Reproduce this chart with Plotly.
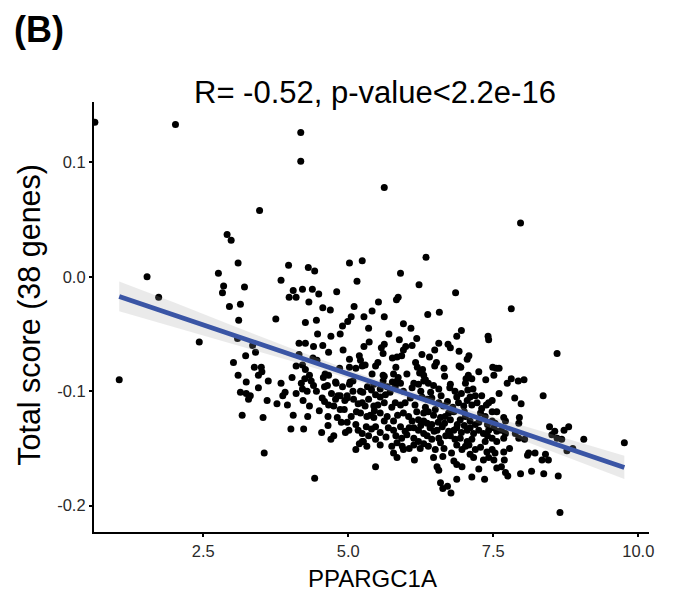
import plotly.graph_objects as go

# ---- data (PPARGC1A vs total score) ----
xa = [0.63, 2.02, 4.18, 4.18, 3.47, 2.91, 2.98, 5.62, 7.97, 1.53, 1.73, 2.43, 1.05, 2.76, 2.85, 2.83, 2.95]
ya = [0.135, 0.133, 0.126, 0.101, 0.058, 0.037, 0.032, 0.078, 0.047, 0.000, -0.018, -0.057, -0.090, 0.003, -0.008, -0.014, -0.026]

xb = [3.10, 3.97, 4.31, 4.42, 5.02, 5.24, 3.21, 3.84, 4.05, 4.21, 4.38, 4.49, 4.80, 5.15, 3.98, 4.10, 4.32,
      3.14, 4.56, 4.69, 5.10, 5.27, 3.11, 3.75, 4.26, 4.45, 5.05, 4.99, 4.90, 4.47, 4.86, 3.09, 3.35, 4.15,
      4.26, 4.40, 4.56, 4.66, 4.91, 3.40, 3.23, 3.02, 4.10, 4.21, 4.26, 4.39, 4.46, 5.02, 5.19, 5.21, 3.38,
      3.50, 3.51, 3.45, 3.10, 5.02, 5.13, 5.24, 4.03, 4.25, 4.33, 4.57, 4.66, 4.78, 5.03, 3.24, 3.62, 3.84]
yb = [0.012, 0.010, 0.008, 0.005, 0.012, 0.014, -0.009, -0.003, -0.012, -0.011, -0.011, -0.015, -0.013, -0.004, -0.018, -0.018, -0.022,
      -0.024, -0.027, -0.029, -0.026, -0.035, -0.038, -0.037, -0.040, -0.038, -0.035, -0.039, -0.043, -0.050, -0.050, -0.054, -0.060, -0.058,
      -0.058, -0.061, -0.060, -0.066, -0.064, -0.066, -0.069, -0.075, -0.078, -0.077, -0.081, -0.071, -0.073, -0.072, -0.069, -0.073, -0.079,
      -0.079, -0.083, -0.086, -0.086, -0.079, -0.080, -0.078, -0.088, -0.089, -0.086, -0.088, -0.086, -0.092, -0.092, -0.092, -0.091, -0.093]

xc = [6.34, 5.90, 6.22, 6.85, 5.52, 5.83, 5.86, 5.41, 5.62, 6.37, 6.57, 5.95, 6.08, 6.95, 6.87, 7.41, 7.42,
      5.36, 5.27, 5.88, 6.18, 6.56, 6.49, 6.72, 6.76, 5.62, 5.57, 5.60, 5.99, 5.95, 6.27, 6.91, 7.08, 7.05,
      5.76, 5.84, 5.92, 5.29, 5.51, 5.47, 6.16, 6.52, 6.49, 6.91, 6.94, 7.49, 7.55, 5.41, 5.60, 5.62, 5.82,
      5.78, 5.86, 6.01, 6.19, 6.28, 6.23, 6.30, 6.33, 6.66, 7.07, 7.03, 7.13, 7.37, 7.51, 5.76, 5.84, 6.13, 6.76]
yc = [0.017, 0.003, -0.007, -0.014, -0.022, -0.020, -0.018, -0.030, -0.035, -0.033, -0.031, -0.041, -0.045, -0.047, -0.052, -0.052, -0.055,
      -0.057, -0.061, -0.055, -0.054, -0.058, -0.064, -0.059, -0.062, -0.059, -0.062, -0.067, -0.061, -0.064, -0.068, -0.065, -0.069, -0.072,
      -0.071, -0.070, -0.069, -0.077, -0.075, -0.078, -0.075, -0.075, -0.078, -0.078, -0.079, -0.079, -0.080, -0.085, -0.086, -0.087, -0.079,
      -0.085, -0.088, -0.085, -0.079, -0.081, -0.084, -0.086, -0.090, -0.087, -0.086, -0.089, -0.089, -0.090, -0.086, -0.092, -0.091, -0.093, -0.094]

xd = [7.81, 8.60, 7.60, 7.81, 7.93, 8.03, 7.74]
yd = [-0.028, -0.067, -0.080, -0.089, -0.091, -0.090, -0.093]

xe = [4.19, 4.36, 4.40, 4.79, 4.90, 5.02, 5.08, 3.14, 3.24, 3.31, 3.28, 3.91, 3.87, 4.10, 4.21, 4.29, 4.59, 4.64, 4.71, 4.82,
      4.98, 5.08, 5.21, 4.22, 3.77, 4.33, 4.59, 4.66, 4.78, 4.86, 4.94, 4.98, 5.09, 5.17, 5.24, 4.86, 4.93, 3.17, 3.53, 4.05,
      4.65, 4.81, 4.88, 4.98, 5.14, 5.21, 5.13, 5.17, 4.01, 4.23, 4.54, 5.01, 4.95, 4.75, 4.70, 5.24, 5.19, 5.13, 3.55, 4.42]
ye = [-0.093, -0.091, -0.095, -0.093, -0.096, -0.094, -0.091, -0.101, -0.102, -0.104, -0.107, -0.101, -0.104, -0.102, -0.098, -0.100, -0.096, -0.095, -0.102, -0.104,
      -0.104, -0.100, -0.100, -0.108, -0.111, -0.113, -0.109, -0.112, -0.107, -0.104, -0.108, -0.106, -0.107, -0.111, -0.110, -0.116, -0.116, -0.121, -0.123, -0.121,
      -0.122, -0.123, -0.127, -0.127, -0.118, -0.119, -0.129, -0.134, -0.133, -0.133, -0.136, -0.134, -0.136, -0.139, -0.142, -0.144, -0.146, -0.151, -0.154, -0.176]

xf = [5.33, 5.44, 5.25, 5.60, 5.67, 5.81, 5.90, 6.21, 6.30, 6.38, 6.47, 6.56, 6.84, 6.87, 7.02, 7.06, 7.19, 7.10, 7.38, 7.48,
      5.47, 5.55, 5.64, 5.51, 5.44, 5.81, 5.90, 5.98, 5.29, 6.07, 6.27, 6.36, 6.44, 6.56, 6.64, 6.71, 6.90, 6.99, 7.05, 7.13,
      7.22, 5.32, 5.38, 5.44, 5.67, 5.78, 5.55, 5.95, 6.04, 6.18, 6.30, 6.38, 6.47, 6.21, 6.30, 6.36, 6.44, 6.59, 6.67, 6.76,
      6.73, 6.82, 6.93, 7.02, 7.10, 7.19, 7.28, 7.36, 7.48, 7.53, 7.48, 5.31, 5.69, 5.78, 5.90, 5.98, 6.13, 6.21, 6.30, 6.41,
      6.53, 6.62, 6.73, 6.82, 6.87, 7.05, 7.16, 7.25, 7.33, 7.42, 7.51, 7.56, 5.24, 5.35, 5.26, 5.47, 5.92, 6.01, 6.13, 6.21,
      6.36, 6.44, 6.56, 6.59, 6.76, 6.84, 6.93, 7.05, 7.13, 7.19, 7.36, 7.48, 7.56, 5.32, 5.84, 5.93, 6.13, 6.24, 6.38, 6.50,
      6.87, 6.96, 7.02, 7.39, 7.48, 7.53, 5.78, 5.84, 5.95, 6.14, 6.47, 6.63, 6.82, 6.87, 6.96, 7.10, 7.16, 7.33, 7.42, 7.51,
      7.56, 5.47, 6.53, 6.56, 7.25, 6.87, 7.13, 7.35, 6.59, 6.63, 6.71, 6.77, 5.47]
yf = [-0.096, -0.094, -0.101, -0.091, -0.096, -0.096, -0.093, -0.094, -0.091, -0.093, -0.095, -0.098, -0.100, -0.105, -0.093, -0.099, -0.104, -0.105, -0.112, -0.108,
      -0.103, -0.105, -0.103, -0.112, -0.113, -0.110, -0.112, -0.110, -0.113, -0.106, -0.105, -0.107, -0.106, -0.110, -0.113, -0.109, -0.110, -0.113, -0.108, -0.112,
      -0.110, -0.122, -0.121, -0.123, -0.122, -0.126, -0.119, -0.119, -0.122, -0.118, -0.119, -0.118, -0.121, -0.125, -0.126, -0.128, -0.129, -0.123, -0.122, -0.125,
      -0.119, -0.118, -0.125, -0.122, -0.126, -0.129, -0.119, -0.122, -0.126, -0.128, -0.118, -0.131, -0.132, -0.134, -0.131, -0.135, -0.132, -0.134, -0.137, -0.132,
      -0.134, -0.131, -0.135, -0.134, -0.132, -0.134, -0.137, -0.134, -0.137, -0.134, -0.132, -0.135, -0.137, -0.139, -0.144, -0.142, -0.141, -0.138, -0.141, -0.144,
      -0.139, -0.142, -0.141, -0.145, -0.139, -0.142, -0.141, -0.144, -0.142, -0.151, -0.144, -0.141, -0.144, -0.148, -0.145, -0.148, -0.147, -0.150, -0.148, -0.151,
      -0.147, -0.151, -0.148, -0.153, -0.151, -0.154, -0.154, -0.158, -0.151, -0.160, -0.158, -0.157, -0.161, -0.164, -0.166, -0.155, -0.158, -0.160, -0.158, -0.160,
      -0.167, -0.166, -0.166, -0.169, -0.168, -0.177, -0.175, -0.177, -0.180, -0.185, -0.183, -0.189, -0.131]

xg = [7.60, 7.87, 7.98, 8.36, 7.56, 7.68, 7.71, 7.95, 7.94, 7.64, 7.71, 7.88, 7.94, 8.04, 7.68, 8.47, 8.56, 8.51, 8.60, 8.68,
      8.72, 8.80, 9.06, 9.76, 7.68, 7.78, 8.11, 8.22, 8.09, 8.40, 8.45, 8.34, 8.77, 8.87, 7.69, 7.64, 7.71, 7.75, 7.97, 8.16,
      8.37, 8.62, 8.65]
yg = [-0.102, -0.106, -0.111, -0.104, -0.118, -0.123, -0.126, -0.123, -0.128, -0.134, -0.137, -0.137, -0.141, -0.142, -0.141, -0.131, -0.135, -0.138, -0.141, -0.142,
      -0.134, -0.131, -0.142, -0.145, -0.153, -0.150, -0.154, -0.154, -0.156, -0.155, -0.160, -0.160, -0.152, -0.150, -0.160, -0.166, -0.171, -0.174, -0.172, -0.170,
      -0.172, -0.174, -0.206]

# overlapping points in the dense core (estimated)
xh = [5.40, 5.55, 5.72, 5.95, 6.10, 6.25, 6.42, 6.60, 6.75, 6.95, 7.15, 7.30,
      5.35, 5.62, 5.75, 6.15, 6.33, 6.50, 6.80, 7.00, 7.30, 7.42,
      5.45, 5.62, 5.85, 6.10, 6.55, 6.66, 6.88, 7.00, 7.25, 7.40,
      5.40, 5.55, 5.65, 5.82, 6.05, 6.25, 6.48, 6.68, 6.95, 7.10, 7.40,
      5.55, 5.75, 6.05, 6.30, 6.65, 6.78, 7.08, 7.28,
      4.45, 4.55, 4.75, 4.50, 4.30, 4.65, 5.05, 3.95, 3.60, 3.45,
      4.60, 4.85, 4.15, 4.70, 5.35, 5.70, 6.10, 6.40, 6.65, 7.25]
yh = [-0.099, -0.098, -0.101, -0.100, -0.097, -0.100, -0.101, -0.104, -0.097, -0.102, -0.098, -0.104,
      -0.107, -0.110, -0.114, -0.112, -0.114, -0.116, -0.114, -0.118, -0.115, -0.110,
      -0.117, -0.126, -0.121, -0.126, -0.127, -0.128, -0.129, -0.130, -0.127, -0.129,
      -0.133, -0.136, -0.140, -0.139, -0.132, -0.130, -0.135, -0.139, -0.136, -0.132, -0.139,
      -0.147, -0.148, -0.150, -0.146, -0.150, -0.154, -0.147, -0.149,
      -0.100, -0.106, -0.113, -0.117, -0.122, -0.130, -0.122, -0.112, -0.108, -0.097,
      -0.085, -0.080, -0.068, -0.052, -0.045, -0.050, -0.060, -0.070, -0.080, -0.083]

# linear fit line and its confidence band
fit_x = [1.05, 9.76]
fit_y = [-0.0172, -0.1666]
band_x = [1.05, 2.0, 3.0, 4.0, 5.0, 5.8, 7.0, 8.0, 9.0, 9.76]
band_lo = [-0.0302, -0.0445, -0.0586, -0.0733, -0.0887, -0.1020, -0.1234, -0.1426, -0.1620, -0.1768]
band_hi = [-0.0042, -0.0225, -0.0426, -0.0623, -0.0811, -0.0954, -0.1150, -0.1302, -0.1450, -0.1564]

x_ticks = [2.5, 5.0, 7.5, 10.0]
x_ticktext = ["2.5", "5.0", "7.5", "10.0"]
y_ticks = [0.1, 0.0, -0.1, -0.2]
y_ticktext = ["0.1", "0.0", "-0.1", "-0.2"]

title_text = "R= -0.52, p-value<2.2e-16"
panel_label = "(B)"
x_label = "PPARGC1A"
y_label = "Total score (38 genes)"

xs = xa + xb + xc + xd + xe + xf + xg + xh
ys = ya + yb + yc + yd + ye + yf + yg + yh

FONT = "Liberation Sans, Arial, sans-serif"

fig = go.Figure()
fig.add_trace(go.Scatter(x=xs, y=ys, mode="markers",
                         marker=dict(color="black", size=7, line=dict(width=0)),
                         hoverinfo="skip", showlegend=False))
fig.add_trace(go.Scatter(x=band_x + band_x[::-1], y=band_hi + band_lo[::-1],
                         mode="lines", fill="toself", fillcolor="rgba(160,160,160,0.22)",
                         line=dict(width=0), hoverinfo="skip", showlegend=False))
fig.add_trace(go.Scatter(x=fit_x, y=fit_y, mode="lines",
                         line=dict(color="#3A55A5", width=4.8),
                         hoverinfo="skip", showlegend=False))

axis_common = dict(showgrid=False, zeroline=False, showline=True, linecolor="black", linewidth=2.2,
                   ticks="outside", ticklen=3, tickwidth=1.5, tickcolor="black",
                   tickfont=dict(family=FONT, size=16.5, color="#2a2a2a"))

fig.update_layout(
    width=691, height=605,
    margin=dict(l=94, r=42, t=102, b=73, autoexpand=False),
    paper_bgcolor="white", plot_bgcolor="white",
    xaxis=dict(range=[0.615, 10.185], tickvals=x_ticks, ticktext=x_ticktext, **axis_common),
    yaxis=dict(range=[-0.223, 0.1527], tickvals=y_ticks, ticktext=y_ticktext, **axis_common),
    annotations=[
        dict(text=title_text, xref="paper", yref="paper", x=0.507, y=1.0214, xanchor="center", yanchor="middle",
             showarrow=False, font=dict(family=FONT, size=31, color="black")),
        dict(text="<b>" + panel_label + "</b>", xref="paper", yref="paper", x=-0.148, y=1.168, xanchor="left", yanchor="middle",
             showarrow=False, font=dict(family=FONT, size=36, color="black")),
        dict(text=x_label, xref="paper", yref="paper", x=0.502, y=-0.107, xanchor="center", yanchor="middle",
             showarrow=False, font=dict(family=FONT, size=24, color="black")),
        dict(text=y_label, xref="paper", yref="paper", x=-0.1154, y=0.505, xanchor="center", yanchor="middle",
             textangle=-90, showarrow=False, font=dict(family=FONT, size=30.5, color="black")),
    ],
)

fig.write_html("out.html", config={"displayModeBar": False},
               post_script="document.body.style.margin='0';")
